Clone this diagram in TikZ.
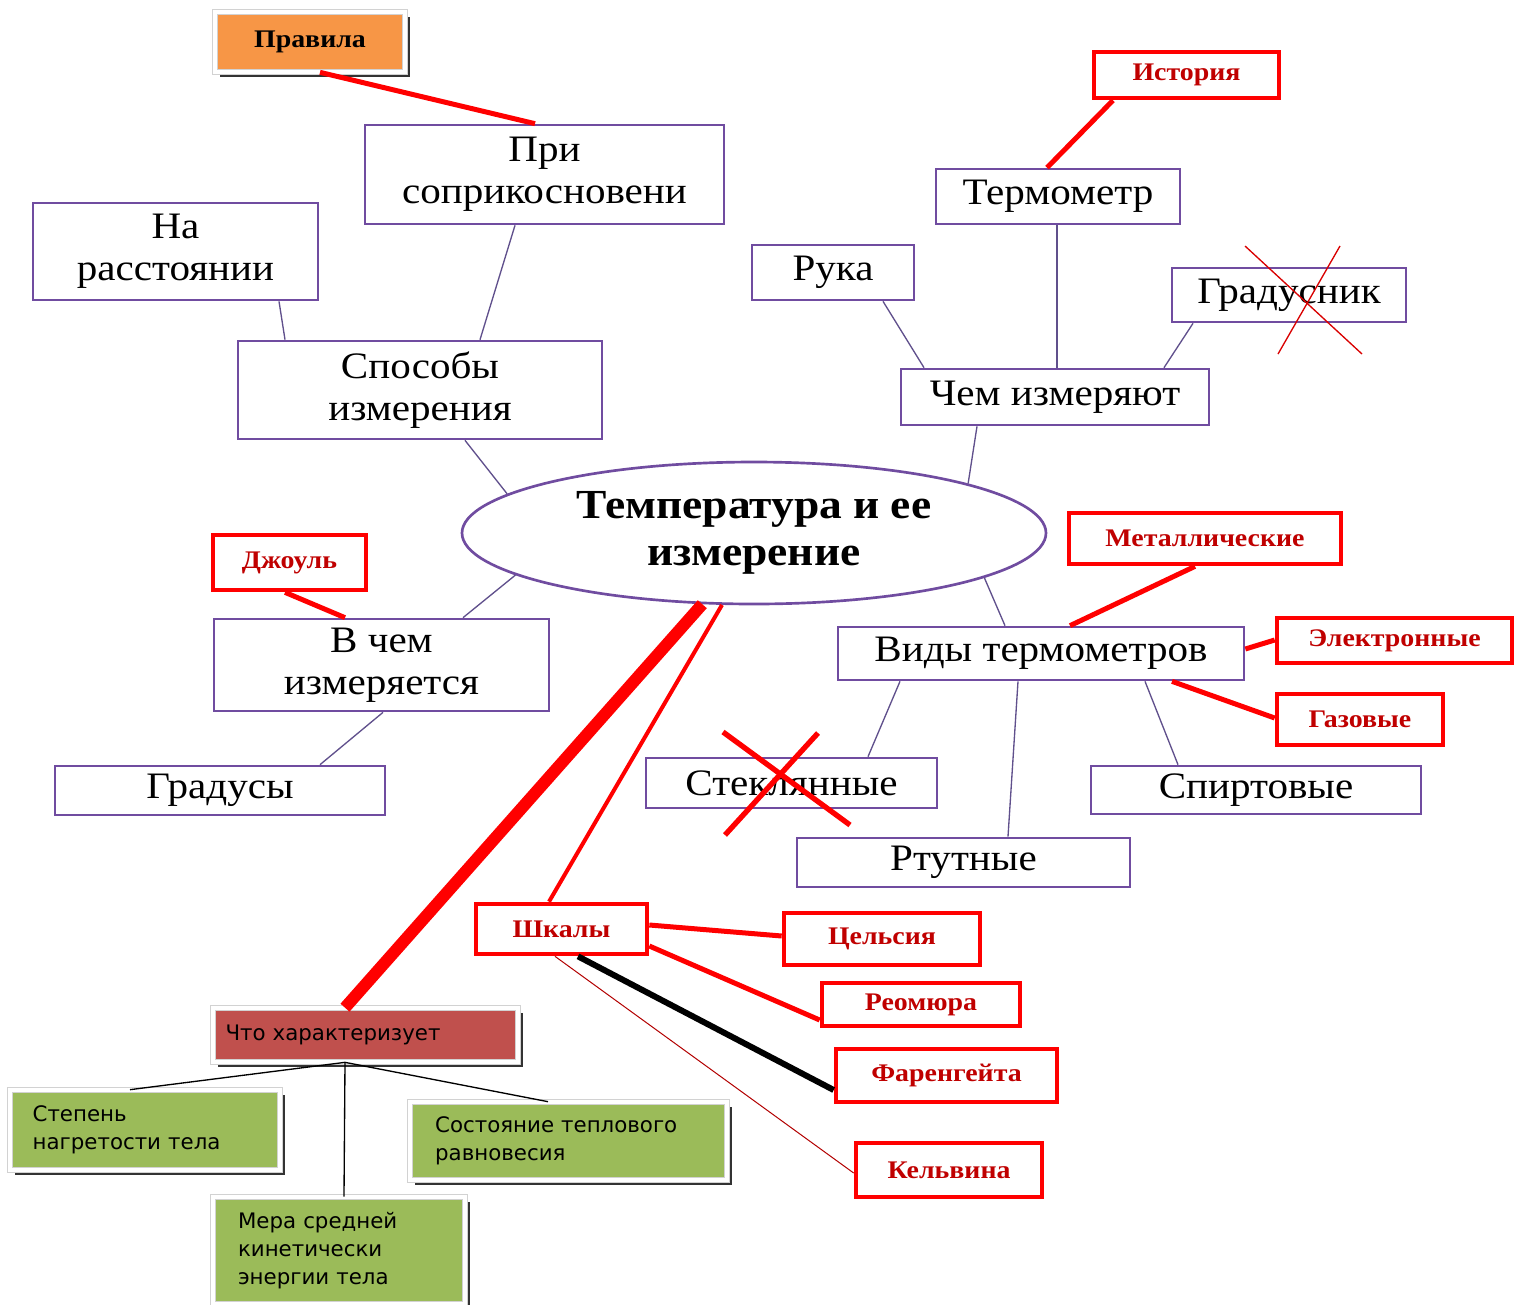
\documentclass[tikz,border=0pt]{standalone}
\usepackage{fontspec}
\setmainfont{Liberation Serif}[FakeStretch=1.1]
\newfontfamily\leaffont{DejaVu Sans}
\usetikzlibrary{shapes.geometric,shadows,calc}

\definecolor{boxpurple}{RGB}{112,76,160}
\definecolor{linkpurple}{RGB}{96,80,140}
\definecolor{darkred}{RGB}{192,0,0}
\definecolor{rulesorange}{RGB}{247,150,70}
\definecolor{charred}{RGB}{192,80,77}
\definecolor{leafgreen}{RGB}{155,187,89}

\tikzset{every picture/.style={line width=0.75pt}}
\tikzset{
  mainbox/.style={draw=boxpurple, line width=2pt, fill=white, inner sep=0pt, align=center, font=\fontsize{28}{31.5}\selectfont},
  redbox/.style={draw=red, line width=3.5pt, fill=white, inner sep=0pt, align=center, text=darkred, font=\fontsize{19}{21}\selectfont\bfseries},
  shadowbox/.style={draw=gray!35, line width=0.5pt, double=white, double distance=3pt, inner sep=0pt, drop shadow={shadow xshift=3.5pt, shadow yshift=-4pt, fill=black!80, opacity=1}},
  leafbox/.style={shadowbox, fill=leafgreen, align=left, font=\leaffont\fontsize{16}{21}\selectfont},
  thinlink/.style={draw=linkpurple, line width=1pt},
  redlink/.style={draw=red, line width=3.75pt},
}

\begin{document}
\begin{tikzpicture}[x=0.75pt,y=0.75pt,yscale=-1,xscale=1]
\useasboundingbox (0,0) rectangle (1514,1304);

%Shape: Ellipse
\node [ellipse, draw=boxpurple, line width=2pt, fill=white, minimum width=438pt, minimum height=106.5pt, inner sep=0pt, align=center, font=\fontsize{31}{35}\selectfont\bfseries] (title) at (754,533) {Температура и ее\\измерение};

%Shape: Rectangle
\node [shadowbox, fill=rulesorange, minimum width=142.5pt, minimum height=45pt, font=\fontsize{19}{21}\selectfont\bfseries] (pravila) at (310,42) {Правила};
\node [mainbox, minimum width=269.25pt, minimum height=74.25pt] (pri) at (544.5,174.5) {При\\соприкосновени};
\node [mainbox, minimum width=213.75pt, minimum height=72.75pt] (rasst) at (175.5,251.5) {На\\расстоянии};
\node [mainbox, minimum width=273pt, minimum height=73.5pt] (sposoby) at (420,390) {Способы\\измерения};

\node [mainbox, minimum width=183pt, minimum height=41.25pt] (termometr) at (1058,196.5) {Термометр};
\node [redbox, minimum width=138.75pt, minimum height=34.5pt] (istoriya) at (1186.5,75) {История};
\node [mainbox, minimum width=121.5pt, minimum height=41.25pt] (ruka) at (833,272.5) {Рука};
\node [mainbox, minimum width=175.5pt, minimum height=40.5pt] (gradusnik) at (1289,295) {Градусник};
\node [mainbox, minimum width=231pt, minimum height=42pt] (chem) at (1055,397) {Чем измеряют};

\node [redbox, minimum width=114.75pt, minimum height=41.25pt] (joule) at (289.5,562.5) {Джоуль};
\node [mainbox, minimum width=251.25pt, minimum height=69pt] (vchem) at (381.5,665) {В чем\\измеряется};
\node [mainbox, minimum width=247.5pt, minimum height=36.75pt] (gradusy) at (220,790.5) {Градусы};

\node [redbox, minimum width=204pt, minimum height=38.25pt] (metal) at (1205,538.5) {Металлические};
\node [mainbox, minimum width=304.5pt, minimum height=39.75pt] (vidy) at (1041,653.5) {Виды термометров};
\node [redbox, minimum width=176.25pt, minimum height=33.75pt] (elektr) at (1394.5,640.5) {Электронные};
\node [redbox, minimum width=124.5pt, minimum height=38.25pt] (gaz) at (1360,719.5) {Газовые};
\node [mainbox, minimum width=218.25pt, minimum height=37.5pt] (stekl) at (791.5,783) {Стеклянные};
\node [mainbox, minimum width=249.75pt, minimum height=36.75pt] (rtut) at (963.5,862.5) {Ртутные};
\node [mainbox, minimum width=247.5pt, minimum height=36pt] (spirt) at (1256,790) {Спиртовые};

\node [redbox, minimum width=128.25pt, minimum height=37.5pt] (shkaly) at (561.5,929) {Шкалы};
\node [redbox, minimum width=147pt, minimum height=39pt] (celsius) at (882,939) {Цельсия};
\node [redbox, minimum width=148.5pt, minimum height=32.25pt] (reom) at (921,1004.5) {Реомюра};
\node [redbox, minimum width=165.75pt, minimum height=39.75pt] (faren) at (946.5,1075.5) {Фаренгейта};
\node [redbox, minimum width=139.5pt, minimum height=40.5pt] (kelvin) at (949,1170) {Кельвина};

\node [shadowbox, fill=charred, minimum width=228.75pt, minimum height=40.5pt, text width=210pt, align=left, font=\leaffont\fontsize{16}{21}\selectfont] (chto) at (365.5,1035) {Что характеризует};
\node [leafbox, minimum width=202.5pt, minimum height=60pt, text width=168.5pt] (stepen) at (145,1130) {Степень\\нагретости тела};
\node [leafbox, minimum width=237.75pt, minimum height=58.5pt, text width=200pt] (sost) at (568.5,1141) {Состояние теплового\\равновесия};
\node [leafbox, minimum width=189pt, minimum height=80.25pt, text width=151.5pt] (mera) at (339,1250.5) {Мера средней\\кинетически\\энергии тела};

%Straight Lines
\draw [redlink] ($(pravila.south)+(10,0)$) -- ($(pri.north)+(-9.5,0)$);
\draw [thinlink] ($(pri.south)+(-29.5,0)$) -- ($(sposoby.north)+(60,0)$);
\draw [thinlink] ($(rasst.south)+(103.5,0)$) -- ($(sposoby.north)+(-135,0)$);
\draw [thinlink] ($(sposoby.south)+(45,0)$) -- (title.171);

\draw [thinlink] (title.13) -- ($(chem.south)+(-78,0)$);
\draw [thinlink] ($(chem.north)+(-131,0)$) -- ($(ruka.south)+(50,0)$);
\draw [thinlink] ($(chem.north)+(2,0)$) -- ($(termometr.south)+(-1,0)$);
\draw [thinlink] ($(chem.north)+(109,0)$) -- ($(gradusnik.south)+(-96,0)$);
\draw [redlink] ($(termometr.north)+(-11,0)$) -- ($(istoriya.south)+(-73.5,0)$);

\draw [thinlink] (title.190) -- ($(vchem.north)+(81.5,0)$);
\draw [redlink] ($(joule.south)+(-4.5,0)$) -- ($(vchem.north)+(-36.5,0)$);
\draw [thinlink] ($(vchem.south)+(1.5,0)$) -- ($(gradusy.north)+(100,0)$);

\draw [thinlink] (title.349) -- ($(vidy.north)+(-36,0)$);
\draw [redlink] ($(vidy.north)+(29,0)$) -- ($(metal.south)+(-10,0)$);
\draw [redlink] ($(vidy.east)+(0,-4.5)$) -- ($(elektr.west)+(0,-0.5)$);
\draw [redlink] ($(vidy.south)+(131,0)$) -- ($(gaz.west)+(0,-1.5)$);
\draw [thinlink] ($(vidy.south)+(-141,0)$) -- ($(stekl.north)+(76.5,0)$);
\draw [thinlink] ($(vidy.south)+(-23,0)$) -- ($(rtut.north)+(44.5,0)$);
\draw [thinlink] ($(vidy.south)+(104,0)$) -- ($(spirt.north)+(-78,0)$);

\draw [red, line width=9pt] (title.234) -- ($(chto.north)+(-20.5,0)$);
\draw [red, line width=3pt] (title.246) -- ($(shkaly.north)+(-12.5,0)$);
\draw [redlink] ($(shkaly.east)+(0,-4)$) -- ($(celsius.west)+(0,-3)$);
\draw [redlink] ($(shkaly.east)+(0,17)$) -- ($(reom.west)+(0,15.5)$);
\draw [black, line width=4.5pt] ($(shkaly.south)+(16.5,0)$) -- ($(faren.west)+(0,14.5)$);
\draw [red!70!black, line width=0.75pt] ($(shkaly.south)+(-6.5,0)$) -- ($(kelvin.west)+(0,3)$);

\draw [black, line width=1pt] ($(chto.south)+(-20.5,0)$) -- ($(stepen.north)+(-15,0)$);
\draw [black, line width=1pt] ($(chto.south)+(-20.5,0)$) -- ($(sost.north)+(-20.5,0)$);
\draw [black, line width=1pt] ($(chto.south)+(-20.5,0)$) -- ($(mera.north)+(5,0)$);

%Crosses
\draw [red!85!black, line width=1pt] ($(gradusnik.center)+(-44,-49)$) -- ($(gradusnik.center)+(73,59)$);
\draw [red!85!black, line width=1pt] ($(gradusnik.center)+(51,-49)$) -- ($(gradusnik.center)+(-11,59)$);
\draw [red, line width=4pt] ($(stekl.center)+(-68.5,-51)$) -- ($(stekl.center)+(58.5,42)$);
\draw [red, line width=4pt] ($(stekl.center)+(26.5,-50)$) -- ($(stekl.center)+(-66.5,52)$);

\end{tikzpicture}
\end{document}
